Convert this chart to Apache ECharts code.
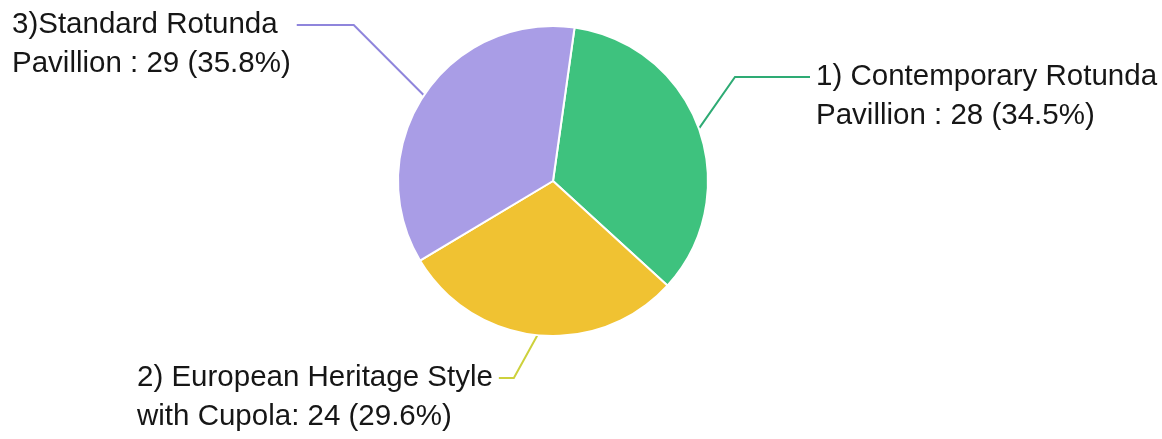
<!DOCTYPE html>
<html><head><meta charset="utf-8">
<script src="https://cdn.jsdelivr.net/npm/echarts@6/dist/echarts.min.js"></script>
<style>html,body{margin:0;padding:0;background:#fff}#c{width:1162px;height:439px}</style>
</head><body><div id="c"></div>
<script>
const categories = ['1) Contemporary Rotunda\nPavillion', '2) European Heritage Style\nwith Cupola', '3)Standard Rotunda\nPavillion'];
const values = [28, 24, 29];
const separators = [' : ', ': ', ' : '];
const colors = ['#3ec27e', '#f0c232', '#a99de6'];
const lineColors = ['#2eab74', '#cdd13c', '#8f85dc'];
const total = values.reduce((a, b) => a + b, 0);
const labelAnchor = [[810, 77], [131, 378], [6, 25]];
const guideLen = [75, 15, 57];

const chart = echarts.init(document.getElementById('c'), null, {renderer: 'canvas'});
chart.setOption({
  animation: false,
  backgroundColor: '#fff',
  series: [{
    type: 'pie',
    center: [553, 181],
    radius: 155,
    startAngle: 82,
    clockwise: true,
    itemStyle: {borderColor: '#fff', borderWidth: 2},
    label: {
      show: true,
      position: 'outside',
      fontFamily: 'Liberation Sans, Arial, sans-serif',
      fontSize: 29.5,
      lineHeight: 39,
      color: '#161616',
      padding: [0, 6, 0, 6],
      formatter: p => {
        const pct = Math.floor(p.value / total * 1000) / 10;
        // leading empty line keeps the guide line level with the first text line
        return '\n' + p.name + separators[p.dataIndex] + p.value + ' (' + pct.toFixed(1) + '%)';
      }
    },
    labelLine: {show: true, length: 15, lineStyle: {width: 2}},
    labelLayout: p => ({
      x: labelAnchor[p.dataIndex][0],
      y: labelAnchor[p.dataIndex][1],
      align: 'left',
      verticalAlign: 'middle'
    }),
    data: categories.map((n, i) => ({
      name: n,
      value: values[i],
      itemStyle: {color: colors[i]},
      labelLine: {length2: guideLen[i], lineStyle: {color: lineColors[i], width: 2}}
    }))
  }]
});
</script>
</body></html>
